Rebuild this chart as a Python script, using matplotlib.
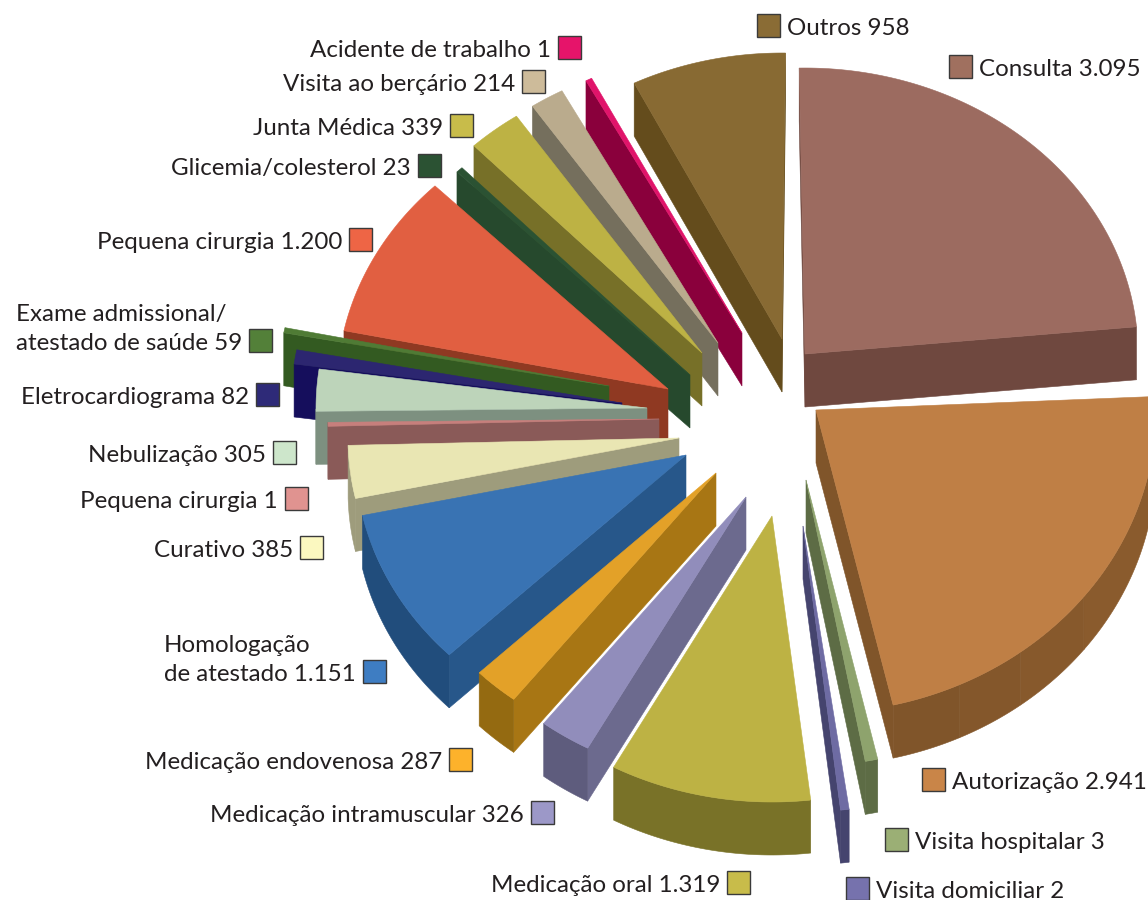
import matplotlib
matplotlib.use("Agg")
import matplotlib.pyplot as plt
import numpy as np
from matplotlib.patches import Polygon, Rectangle

# Slices clockwise from 12 o'clock
names = ["Consulta", "Autorização", "Visita hospitalar", "Visita domiciliar",
         "Medicação oral", "Medicação intramuscular", "Medicação endovenosa",
         "Homologação\nde atestado", "Curativo", "Pequena cirurgia", "Nebulização",
         "Eletrocardiograma", "Exame admissional/\natestado de saúde", "Pequena cirurgia",
         "Glicemia/colesterol", "Junta Médica", "Visita ao berçário",
         "Acidente de trabalho", "Outros"]
values = [3095, 2941, 3, 2, 1319, 326, 287, 1151, 385, 1, 305, 82, 59, 1200, 23, 339, 214, 1, 958]

top_colors = ["#9C6B60", "#BF7F45", "#8EA36D", "#6E6BA3", "#BDB244", "#918DBB", "#E3A128",
              "#3973B3", "#E9E6B3", "#C77F7C", "#BDD4BA", "#2C2670", "#4F7B35", "#E15F41",
              "#2B5233", "#BDB244", "#BAAB8D", "#E0146A", "#886A33"]
wall_colors = ["#6F483F", "#80552A", "#5D6C45", "#45446E", "#797228", "#6C6A8E", "#A87614",
               "#27578A", "#9E9C7C", "#8A5A58", "#7D9080", "#150E5C", "#335A21", "#8F3922",
               "#26492D", "#777028", "#756F5D", "#8A003C", "#644C1C"]
rim_colors = ["#6F483F", "#8A5B2D", "#5D6C45", "#45446E", "#797228", "#5E5C7D", "#946A11",
              "#214D7C", "#9E9C7C", "#8A5A58", "#7D9080", "#150E5C", "#335A21", "#8F3922",
              "#26492D", "#777028", "#756F5D", "#8A003C", "#644C1C"]
swatch_colors = ["#A0705F", "#C98548", "#9BAF75", "#7672AD", "#C8BC4A", "#9C98C8", "#FDB22B",
                 "#3E7DC2", "#FBF8C0", "#E09390", "#CDE6CB", "#2E2A78", "#538039", "#EE6545",
                 "#2B5233", "#C8BC4A", "#CDBB9A", "#E6146A", "#8A6C35"]

# Pie geometry in pixels
CENTER = (790, 390)
RX, RY = 331, 286
# The two big slices bulge a little in the original's perspective
radii = {"Consulta": (333, 286), "Autorização": (340, 303)}
DEPTH = 53
START = -0.3
# How far each slice is pulled out of the pie
explode_x = [15, 26, 16, 13, -18, -44, -74, -104, -111, -131, -143, -168, -181, -122, -100, -88, -72, -48, -8]
explode_y = [-36, 20, 90, 136, 126, 107, 83, 65, 48, 29, 18, 13, -4, -1, -15, -37, -47, -57, -51]
# Slivers are drawn wider than their share so they stay visible
min_sweep = [0, 0, 2.2, 1.5, 0, 0, 0, 0, 0, 0.8, 0, 0, 0, 0, 1.2, 0, 0, 1.1, 0]
# Small angle corrections in degrees for each slice's two edges
start_nudge = [-0.7, 1.4, -0.6, 1.7, 1.5, 0, 0, 0, 0, 0, 0, 0, 0.6, 0, 0, 0, 0, 0, 0.5]
end_nudge = [-1.5, -1.2, -0.6, 1.7, 0, 0, 0, 0, 0, 0, 0, 0.6, 0, 0, 0, 0, 0, 0, 0.9]
draw_order = [18, 17, 16, 15, 14, 13, 12, 11, 10, 9, 8, 7, 6, 5, 4, 0, 1, 2, 3]

# Legend layout: swatch left/top, text side
swatch_x = [949, 922, 885, 846, 727, 531, 449, 363, 300, 285, 273, 256, 249, 349, 418, 450, 522, 558, 757]
swatch_y = [55, 768, 828, 877, 871, 801, 748, 660, 536, 487, 441, 383, 329, 228, 154, 114, 70, 36, 14]
text_side = ["r", "r", "r", "r", "l", "l", "l", "l", "l", "l", "l", "l", "l", "l", "l", "l", "l", "l", "r"]
SWATCH = 23
FONT_SIZE = 17.4

# Subtle facets on the Autorização rim
facet_breaks = [128, 143, 155]
facet_colors = ["#8A5B2D", "#87592C", "#84572B", "#80552A"]

plt.rcParams["font.family"] = ["Lato", "DejaVu Sans"]


def slice_angles(vals, mins):
    """Sweep of each slice in degrees, scaled so the forced slivers still close the circle"""
    raw = np.array(vals) / sum(vals) * 360
    mins = np.array(mins, dtype=float)
    scale = (360 - mins.sum()) / raw[mins == 0].sum()
    sweeps = np.where(mins > 0, mins, raw * scale)
    ends = START + np.cumsum(sweeps)
    return ends - sweeps + np.array(start_nudge), ends + np.array(end_nudge)


def arc_points(apex, a0, a1, rx, ry):
    t = np.radians(np.arange(a0, a1, 0.5).tolist() + [a1])
    return np.column_stack((apex[0] + rx * np.sin(t), apex[1] - ry * np.cos(t)))


def extrude(ax, pts, color):
    """Wall below a run of top-face points"""
    low = pts + np.array([0, DEPTH])
    ax.add_patch(Polygon(np.vstack((pts, low[::-1])), closed=True, fc=color, ec=color, lw=0.4))


def draw_slice(ax, i, a0, a1):
    apex = np.array([CENTER[0] + explode_x[i], CENTER[1] + explode_y[i]], dtype=float)
    rx, ry = radii.get(names[i], (RX, RY))
    arc = arc_points(apex, a0, a1, rx, ry)
    # Points run clockwise on screen, so a wall shows wherever x goes down
    for p, q in [(apex, arc[0]), (arc[-1], apex)]:
        if q[0] < p[0]:
            extrude(ax, np.array([p, q]), wall_colors[i])
    if names[i] == "Autorização":
        edges = [a0] + facet_breaks + [a1]
        for k, color in enumerate(facet_colors):
            extrude(ax, arc_points(apex, edges[k], edges[k + 1], rx, ry), color)
    else:
        falling = np.diff(arc[:, 0]) < 0
        if falling.any():
            first = np.argmax(falling)
            last = len(falling) - np.argmax(falling[::-1])
            extrude(ax, arc[first:last + 1], rim_colors[i])
    ax.add_patch(Polygon(np.vstack((apex, arc)), closed=True, fc=top_colors[i], ec=top_colors[i], lw=0.4))


def draw_legend(ax):
    for i, name in enumerate(names):
        x, y = swatch_x[i], swatch_y[i]
        ax.add_patch(Rectangle((x, y), SWATCH, SWATCH, fc=swatch_colors[i], ec="#3A3A3A", lw=1))
        label = f"{name} {values[i]:,}".replace(",", ".")
        if text_side[i] == "l":
            ax.text(x - 7, y + SWATCH - 2, label, ha="right", va="baseline", ma="left",
                    fontsize=FONT_SIZE, color="#231F20", linespacing=1.5)
        else:
            ax.text(x + SWATCH + 7, y + SWATCH - 2, label, ha="left", va="baseline",
                    fontsize=FONT_SIZE, color="#231F20")


def main():
    fig = plt.figure(figsize=(11.48, 9), dpi=100)
    ax = fig.add_axes([0, 0, 1, 1])
    ax.set_xlim(0, 1148)
    ax.set_ylim(900, 0)
    ax.axis("off")
    starts, ends = slice_angles(values, min_sweep)
    for i in draw_order:
        draw_slice(ax, i, starts[i], ends[i])
    draw_legend(ax)
    fig.savefig("out.png", dpi=100)


if __name__ == "__main__":
    main()
